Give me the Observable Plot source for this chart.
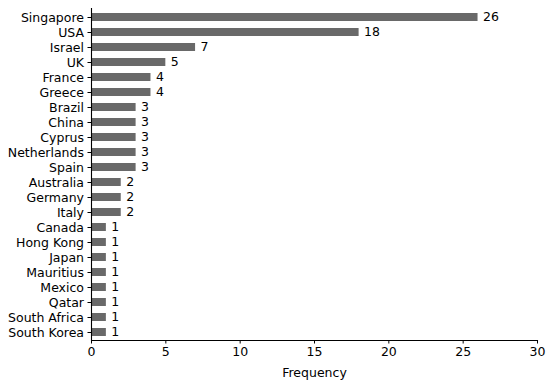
<!DOCTYPE html>
<html>
<head>
<meta charset="utf-8">
<script src="https://cdn.jsdelivr.net/npm/d3@7"></script>
<script src="https://cdn.jsdelivr.net/npm/@observablehq/plot@0.6"></script>
<style>
  html, body { margin: 0; padding: 0; background: #fff; }
  #chart { width: 550px; height: 383px; }
</style>
</head>
<body>
<div id="chart"></div>
<script>
const countries = ["Singapore", "USA", "Israel", "UK", "France", "Greece", "Brazil", "China", "Cyprus", "Netherlands", "Spain", "Australia", "Germany", "Italy", "Canada", "Hong Kong", "Japan", "Mauritius", "Mexico", "Qatar", "South Africa", "South Korea"];
const frequencies = [26, 18, 7, 5, 4, 4, 3, 3, 3, 3, 3, 2, 2, 2, 1, 1, 1, 1, 1, 1, 1, 1];
const xTicks = [0, 5, 10, 15, 20, 25, 30];

const data = countries.map((c, i) => ({country: c, value: frequencies[i]}));

const chart = Plot.plot({
  width: 550,
  height: 383,
  marginTop: 8,
  marginBottom: 43,
  marginLeft: 91,
  marginRight: 13,
  style: {fontFamily: "DejaVu Sans", fontSize: "12px", color: "#000", background: "#fff"},
  x: {domain: [0, 30]},
  y: {domain: countries, paddingInner: 0.5, paddingOuter: 0.25},
  marks: [
    Plot.barX(data, {x: "value", y: "country", fill: "#696969"}),
    Plot.text(data, {x: "value", y: "country", text: d => String(d.value), textAnchor: "start", dx: 5, dy: -1, fontSize: 12.5, fill: "#000"}),
    Plot.axisX({ticks: xTicks, tickSize: 3.5, tickPadding: 3, label: "Frequency", labelAnchor: "center", labelOffset: 36, labelArrow: false, fontSize: 12.5}),
    Plot.axisY({tickSize: 3.5, tickPadding: 4, label: null, fontSize: 12.5}),
    Plot.ruleX([0], {stroke: "#000", strokeWidth: 1.1}),
    Plot.frame({anchor: "bottom", stroke: "#000", strokeWidth: 1.1})
  ]
});
document.getElementById("chart").appendChild(chart);
</script>
</body>
</html>
